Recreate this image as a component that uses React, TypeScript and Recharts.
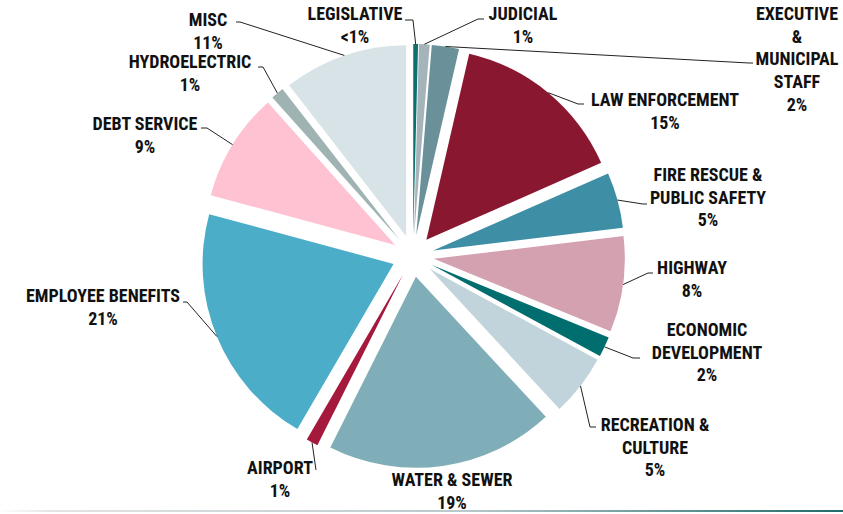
import { PieChart, Pie, Cell } from "recharts";

// budget share by department, clockwise from 12 o'clock
const names = [
  "LEGISLATIVE",
  "JUDICIAL",
  "EXECUTIVE & MUNICIPAL STAFF",
  "LAW ENFORCEMENT",
  "FIRE RESCUE & PUBLIC SAFETY",
  "HIGHWAY",
  "ECONOMIC DEVELOPMENT",
  "RECREATION & CULTURE",
  "WATER & SEWER",
  "AIRPORT",
  "EMPLOYEE BENEFITS",
  "DEBT SERVICE",
  "HYDROELECTRIC",
  "MISC",
];
const values = [0.4, 0.9, 2.3, 14.8, 4.7, 8.1, 1.7, 5.2, 19.3, 1.0, 20.8, 9.2, 1.1, 10.5];
const pctLabels = ["<1%", "1%", "2%", "15%", "5%", "8%", "2%", "5%", "19%", "1%", "21%", "9%", "1%", "11%"];
const labelLines = [
  ["LEGISLATIVE"],
  ["JUDICIAL"],
  ["EXECUTIVE", "&", "MUNICIPAL", "STAFF"],
  ["LAW ENFORCEMENT"],
  ["FIRE RESCUE &", "PUBLIC SAFETY"],
  ["HIGHWAY"],
  ["ECONOMIC", "DEVELOPMENT"],
  ["RECREATION &", "CULTURE"],
  ["WATER & SEWER"],
  ["AIRPORT"],
  ["EMPLOYEE BENEFITS"],
  ["DEBT SERVICE"],
  ["HYDROELECTRIC"],
  ["MISC"],
];
const colors = [
  "#0f6e6e",
  "#a5b4bb",
  "#6a9199",
  "#8a1730",
  "#3e8ea6",
  "#d4a1b0",
  "#006e6e",
  "#c2d4db",
  "#80aeb8",
  "#a4193c",
  "#4badc7",
  "#ffc2d3",
  "#a0b3b3",
  "#d8e3e8",
];

// label layout: text centre x, centre y of first line, leader points (elbow, end)
const labelLayout: { x: number; y: number; leader: number[][] }[] = [
  { x: 355, y: 14, leader: [[413, 20], [405, 20]] },
  { x: 523, y: 14, leader: [[478, 19], [484, 19]] },
  { x: 797, y: 14, leader: [[749, 63], [753, 63]] },
  { x: 665, y: 100, leader: [[578, 104], [584, 104]] },
  { x: 708, y: 175, leader: [[643, 204], [647, 204]] },
  { x: 692, y: 268, leader: [[648, 273], [653, 273]] },
  { x: 707, y: 330, leader: [[633, 358], [640, 358]] },
  { x: 655, y: 425, leader: [[590, 427], [596, 427]] },
  { x: 452, y: 480, leader: [] },
  { x: 280, y: 468, leader: [[316, 470]] },
  { x: 103, y: 296, leader: [[187, 302], [183, 302]] },
  { x: 145, y: 124, leader: [[207, 128], [201, 128]] },
  { x: 190, y: 62, leader: [[263, 67], [258, 67]] },
  { x: 208, y: 20, leader: [[240, 22], [236, 22]] },
];

const data = names.map((name, i) => ({ name, value: values[i] }));

const W = 843;
const H = 514;
const CX = 413;
const CY = 256;
const R = 191;
const EXPLODE = 21;
const LINE_H = 22.7;
const RAD = Math.PI / 180;
const total = values.reduce((a, b) => a + b, 0);

function midAngleOf(i: number) {
  const before = values.slice(0, i).reduce((a, b) => a + b, 0);
  return 90 - (360 * (before + values[i] / 2)) / total;
}

const fontFamily = "'Liberation Sans Narrow', 'Roboto Condensed', 'Open Sans', sans-serif";

function makeLabel(target: number) {
  return (props: any) => {
    if (props.index !== target) return null;
    const { cx, cy, midAngle, outerRadius } = props;
    const px = cx + Math.cos(-midAngle * RAD) * outerRadius;
    const py = cy + Math.sin(-midAngle * RAD) * outerRadius;
    const lay = labelLayout[target];
    const lines = [...labelLines[target], pctLabels[target]];
    const pts = lay.leader.length ? [[px, py], ...lay.leader] : [];
    return (
      <g key={`lbl-${target}`}>
        {pts.length > 0 && (
          <polyline
            points={pts.map((p) => p.join(",")).join(" ")}
            fill="none"
            stroke="#222"
            strokeWidth={1}
          />
        )}
        <text
          x={lay.x}
          y={lay.y}
          textAnchor="middle"
          fontFamily={fontFamily}
          fontWeight="bold"
          fontSize={18}
          fill="#111"
        >
          {lines.map((t, k) => (
            <tspan key={k} x={lay.x} y={lay.y + k * LINE_H + 6}>
              {t}
            </tspan>
          ))}
        </text>
      </g>
    );
  };
}

export default function App() {
  return (
    <div style={{ position: "absolute", left: 0, top: 0, width: W, height: H, background: "#fff" }}>
      <PieChart width={W} height={H} margin={{ top: 0, right: 0, bottom: 0, left: 0 }}>
        {values.map((_, i) => {
          const mid = midAngleOf(i);
          const dx = EXPLODE * Math.cos(mid * RAD);
          const dy = -EXPLODE * Math.sin(mid * RAD);
          return (
            <Pie
              key={i}
              data={data}
              dataKey="value"
              nameKey="name"
              cx={CX + dx}
              cy={CY + dy}
              innerRadius={0}
              outerRadius={R}
              startAngle={90}
              endAngle={-270}
              paddingAngle={0}
              minAngle={0}
              stroke="none"
              isAnimationActive={false}
              labelLine={false}
              label={makeLabel(i)}
            >
              {data.map((_, j) => (
                <Cell key={j} fill={j === i ? colors[j] : "none"} stroke="none" />
              ))}
            </Pie>
          );
        })}
      </PieChart>
      <div
        style={{
          position: "absolute",
          left: 0,
          top: 510,
          width: W,
          height: 2,
          background: "linear-gradient(to right, #ffffff 0%, #e4e4e4 6%, #b9c9cc 55%, #1f6b6b 100%)",
        }}
      />
    </div>
  );
}
